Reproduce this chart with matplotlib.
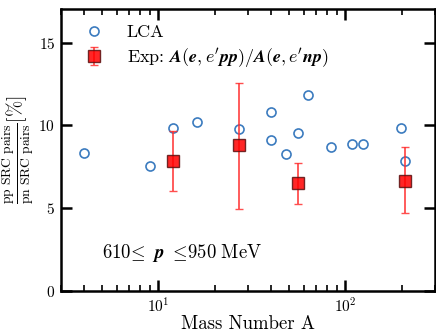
import matplotlib
matplotlib.use("Agg")
import matplotlib.pyplot as plt
import numpy as np

plt.rcParams['mathtext.fontset'] = 'cm'
plt.rcParams['font.family'] = 'cmr10'
plt.rcParams['axes.formatter.use_mathtext'] = True

# LCA calculation
lca_A = [4, 9, 12, 16, 27, 40, 40, 48, 56, 63, 84, 108, 124, 197, 208]
lca_ratio = [8.34, 7.52, 9.87, 10.2, 9.79, 10.78, 9.09, 8.30, 9.57, 11.83,
             8.69, 8.89, 8.85, 9.85, 7.86]

# measured pp/pn
exp_A = [12, 27, 56, 208]
exp_ratio = [7.88, 8.79, 6.51, 6.67]
exp_lo = [6.05, 4.96, 5.28, 4.72]
exp_hi = [9.67, 12.56, 7.74, 8.69]

exp_ratio = np.array(exp_ratio)
yerr = [exp_ratio - np.array(exp_lo), np.array(exp_hi) - exp_ratio]

fig = plt.figure(figsize=(4.36, 3.35), dpi=100)
ax = fig.add_axes([0.139, 0.131, 0.858, 0.841])

ax.plot(lca_A, lca_ratio, 'o', mfc='none', mec='#3b7bbf', mew=1.2, ms=6.5,
        label='LCA', zorder=3)
ax.errorbar(exp_A, exp_ratio, yerr=yerr, fmt='s', color='red', ecolor='#ff3030',
            mfc='red', mec='#5a1010', ms=8.5, mew=1.0, elinewidth=1.3,
            capsize=3, capthick=1.2, alpha=0.85,
            label=r"Exp: $\boldsymbol{A(e,e^\prime pp)/A(e,e^\prime np)}$", zorder=4)

ax.set_xscale('log')
ax.set_xlim(3, 300)
ax.set_ylim(0, 17)
ax.set_yticks([0, 5, 10, 15])
ax.set_yticklabels([r'$\mathbf{0}$', r'$\mathbf{5}$', r'$\mathbf{10}$', r'$\mathbf{15}$'])
ax.set_xticks([10, 100])
ax.set_xticklabels([r'$\mathbf{10^1}$', r'$\mathbf{10^2}$'])

for s in ax.spines.values():
    s.set_linewidth(1.8)
ax.tick_params(which='both', direction='in', top=True, right=True, labelsize=11)
ax.tick_params(which='major', length=8, width=1.8, pad=4)
ax.tick_params(which='minor', length=4.5, width=1.2)

ax.set_xlabel('Mass Number A', fontsize=13.5, labelpad=0)
ax.set_ylabel(r'$\frac{\rm pp\ SRC\ pairs}{\rm pn\ SRC\ pairs}[\%]$', fontsize=14,
              labelpad=2)

ax.text(0.11, 0.117, r'$\mathrm{610}\!\leq\ \boldsymbol{p}\ \leq\!\mathrm{950\ MeV}$',
        transform=ax.transAxes, fontsize=13.5)

leg = ax.legend(loc='upper left', frameon=False, fontsize=13, handletextpad=0.8,
                borderaxespad=0.4, borderpad=0.45, labelspacing=0.3,
                handlelength=2.0)

fig.savefig('out.png', dpi=100)
